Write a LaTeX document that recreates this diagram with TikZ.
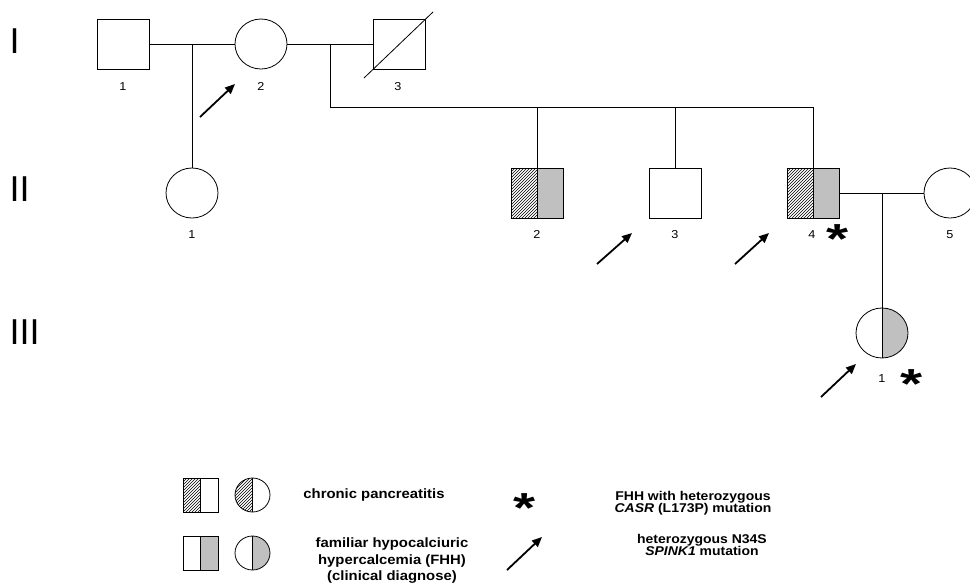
\documentclass[tikz,border=0pt]{standalone}
\usepackage{fontspec}
\setmainfont{Liberation Sans}
\newfontfamily\lgfont[FakeStretch=1.1]{Liberation Sans}
\usetikzlibrary{shapes.geometric,patterns,arrows.meta,calc}
\definecolor{fhhgray}{HTML}{C0C0C0}
\begin{document}
\begin{tikzpicture}[x=1pt,y=-1pt,
  ind/.style={draw, line width=0.8pt, inner sep=0pt, outer sep=0pt, minimum width=52pt, minimum height=50pt},
  male/.style={ind, rectangle},
  female/.style={ind, ellipse},
  small/.style={minimum width=35pt, minimum height=34pt},
  halves/.style 2 args={path picture={
      \fill[#1] (path picture bounding box.south west) rectangle (path picture bounding box.north);
      \fill[#2] (path picture bounding box.south) rectangle (path picture bounding box.north east);
      \draw[line width=0.8pt] (path picture bounding box.south) -- (path picture bounding box.north);}},
  pc/.style={halves={pattern=north east lines}{white}},
  fhh/.style={halves={white}{fhhgray}},
  both/.style={halves={pattern=north east lines}{fhhgray}},
  rel/.style={line width=0.8pt},
  num/.style={font=\lgfont\fontsize{11.5}{11.5}\selectfont, anchor=base, inner sep=0pt},
  gen/.style={font=\fontsize{36}{36}\selectfont, anchor=base west, inner sep=0pt},
  arr/.style={line width=1.8pt, -{Triangle[length=10pt,width=8.5pt]}},
  ast/.style={font=\fontsize{42}{42}\selectfont\bfseries, anchor=base, inner sep=0pt},
  lgtext/.style={font=\lgfont\fontsize{13.5}{16.5}\selectfont\bfseries, inner sep=0pt, align=center},
  lgtextb/.style={font=\lgfont\fontsize{12.7}{12.5}\selectfont\bfseries, inner sep=0pt, align=center}
]
\useasboundingbox (0,0) rectangle (970,584);
\clip (0,0) rectangle (970,584);

% generation labels
\node[gen] (gI) at (9.5,53) {I};
\node[gen] (gII) at (9.5,201) {II};
\node[gen] (gIII) at (9.5,344) {III};

% generation I
\node[male] (I1) at (123,44) {};
\node[female] (I2) at (261,44) {};
\node[male] (I3) at (399,44) {};
\draw[rel] ($(I3.south west)+(-9,9)$) -- ($(I3.north east)+(8,-7)$);
\node[num] (nI1) at (123,90) {1};
\node[num] (nI2) at (261,90) {2};
\node[num] (nI3) at (398,90) {3};

% generation II
\node[female] (II1) at (192,193) {};
\node[male, both] (II2) at (537,193) {};
\node[male] (II3) at (675,193) {};
\node[male, both] (II4) at (813,193) {};
\node[female] (II5) at (950,193) {};
\node[num] (nII1) at (192,238) {1};
\node[num] (nII2) at (537,238) {2};
\node[num] (nII3) at (675,238) {3};
\node[num] (nII4) at (812,238) {4};
\node[num] (nII5) at (950,238) {5};

% generation III
\node[female, fhh] (III1) at (882,333) {};
\node[num] (nIII1) at (882,382) {1};

% relationship lines
\coordinate (m12) at (192,44);
\coordinate (m23) at (330,44);
\coordinate (sib) at (330,107);
\coordinate (m45) at (882,193);
\draw[rel] (I1.east) -- (I2.west);
\draw[rel] (I2.east) -- (I3.west);
\draw[rel] (m12) -- (II1.north);
\draw[rel] (m23) -- (sib) -- (sib -| II4.north) -- (II4.north);
\draw[rel] (sib -| II2.north) -- (II2.north);
\draw[rel] (sib -| II3.north) -- (II3.north);
\draw[rel] (II4.east) -- (II5.west);
\draw[rel] (m45) -- (III1.north);

% arrows (SPINK1)
\coordinate (aI2t) at (200,117); \coordinate (aI2h) at (235,84);
\coordinate (aII3t) at (597,264); \coordinate (aII3h) at (632,233);
\coordinate (aII4t) at (735,264); \coordinate (aII4h) at (769,233);
\coordinate (aIII1t) at (821,397); \coordinate (aIII1h) at (856,364);
\draw[arr] (aI2t) -- (aI2h);
\draw[arr] (aII3t) -- (aII3h);
\draw[arr] (aII4t) -- (aII4h);
\draw[arr] (aIII1t) -- (aIII1h);

% asterisks (CASR)
\node[ast] (sII4) at (838,253) {\scalebox{1.35}[1]{*}};
\node[ast] (sIII1) at (912,398) {\scalebox{1.35}[1]{*}};

% legend
\node[male, small, pc] (lg1a) at (200.5,495) {};
\node[female, small, pc] (lg1b) at (252.5,495) {};
\node[male, small, fhh] (lg2a) at (200.5,553) {};
\node[female, small, fhh] (lg2b) at (252.5,553) {};
\node[lgtext] (t1) at (374,495) {chronic pancreatitis};
\node[lgtext] (t2) at (392,561) {familiar hypocalciuric\\hypercalcemia (FHH)\\(clinical diagnose)};
\node[ast] (lgast) at (525,522) {\scalebox{1.35}[1]{*}};
\coordinate (lgat) at (507,570); \coordinate (lgah) at (542,537);
\draw[arr] (lgat) -- (lgah);
\node[lgtextb] (t3) at (693,503) {FHH with heterozygous\\\textit{CASR} (L173P) mutation};
\node[lgtextb] (t4) at (702,545) {heterozygous N34S\\\textit{SPINK1} mutation};
\end{tikzpicture}
\end{document}
